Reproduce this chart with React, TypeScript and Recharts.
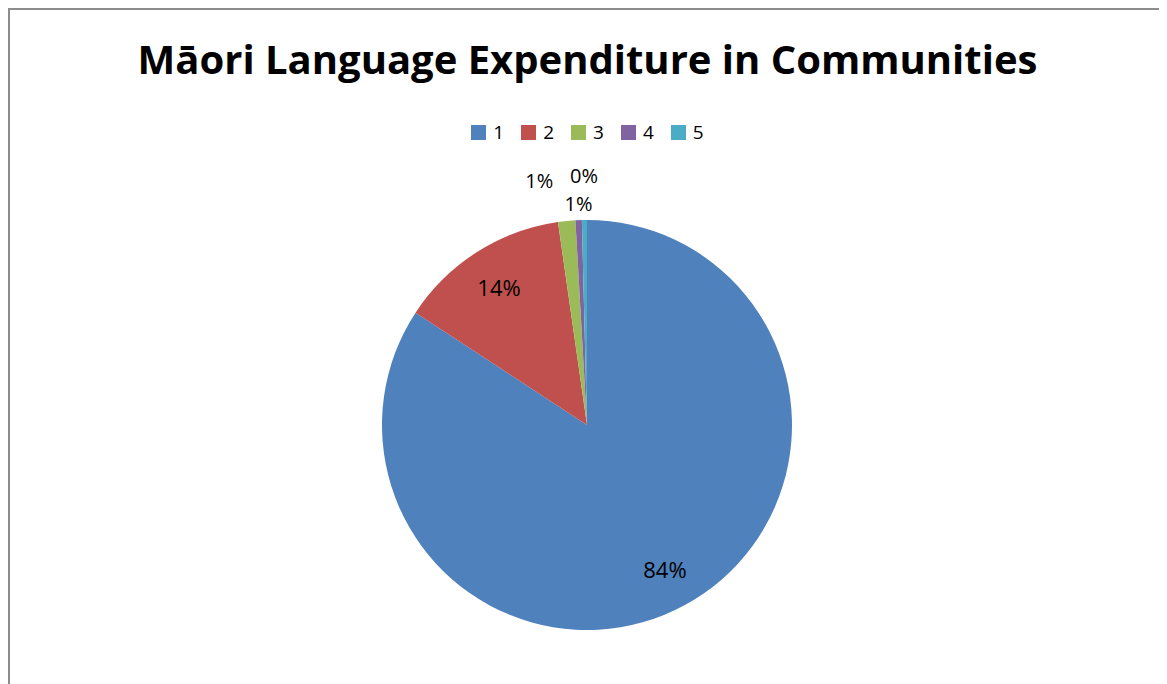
import React from 'react';
import { PieChart, Pie, Cell } from 'recharts';

const CATEGORIES = ['1', '2', '3', '4', '5'];
const SHARES = [84.2, 13.5, 1.36, 0.5, 0.4];
const COLORS = ['#4F81BD', '#C0504D', '#9BBB59', '#8064A2', '#4BACC6'];
// small slices get their labels pushed outside, nudged like Excel's best fit
const LABEL_NUDGE = [
  [0, 0],
  [0, 0],
  [-25, -16],
  [1, 8],
  [0, -20],
];

const data = CATEGORIES.map((name, i) => ({ name, value: SHARES[i] }));

const RAD = Math.PI / 180;
const FONT = '"Open Sans", Lato, sans-serif';

const renderLabel = (props: any) => {
  const { cx, cy, midAngle, outerRadius, percent, index } = props;
  const small = percent < 0.05;
  const r = small ? outerRadius + 25 : outerRadius * 0.8;
  const [nx, ny] = LABEL_NUDGE[index];
  const x = cx + r * Math.cos(-midAngle * RAD) + nx;
  const y = cy + r * Math.sin(-midAngle * RAD) + ny;
  return (
    <text
      x={x}
      y={y}
      fill="#000"
      fontSize={small ? 20 : 22}
      fontFamily={FONT}
      textAnchor="middle"
      dominantBaseline="central"
    >
      {`${Math.round(percent * 100)}%`}
    </text>
  );
};

export default function App() {
  return (
    <div
      style={{
        position: 'relative',
        width: 1155,
        height: 700,
        border: '2px solid #8c8c8c',
        background: '#fff',
      }}
    >
      <div
        style={{
          position: 'absolute',
          top: 21,
          left: 0,
          width: 1155,
          textAlign: 'center',
          fontFamily: FONT,
          fontWeight: 700,
          fontSize: 40,
          color: '#000',
        }}
      >
        Māori Language Expenditure in Communities
      </div>
      <div
        style={{
          position: 'absolute',
          top: 109,
          left: 0,
          width: 1155,
          display: 'flex',
          justifyContent: 'center',
          fontFamily: FONT,
          fontSize: 19,
          color: '#000',
        }}
      >
        {CATEGORIES.map((c, i) => (
          <div key={c} style={{ display: 'flex', alignItems: 'center', marginRight: i < CATEGORIES.length - 1 ? 17 : 0 }}>
            <span style={{ width: 15, height: 15, background: COLORS[i], display: 'inline-block', marginRight: 7 }} />
            <span>{c}</span>
          </div>
        ))}
      </div>
      <PieChart width={1155} height={700} margin={{ top: 0, right: 0, bottom: 0, left: 0 }}>
        <Pie
          data={data}
          dataKey="value"
          nameKey="name"
          cx={577}
          cy={415}
          outerRadius={205}
          startAngle={90}
          endAngle={-270}
          stroke="none"
          label={renderLabel}
          labelLine={false}
          isAnimationActive={false}
        >
          {data.map((d, i) => (
            <Cell key={d.name} fill={COLORS[i]} />
          ))}
        </Pie>
      </PieChart>
    </div>
  );
}
